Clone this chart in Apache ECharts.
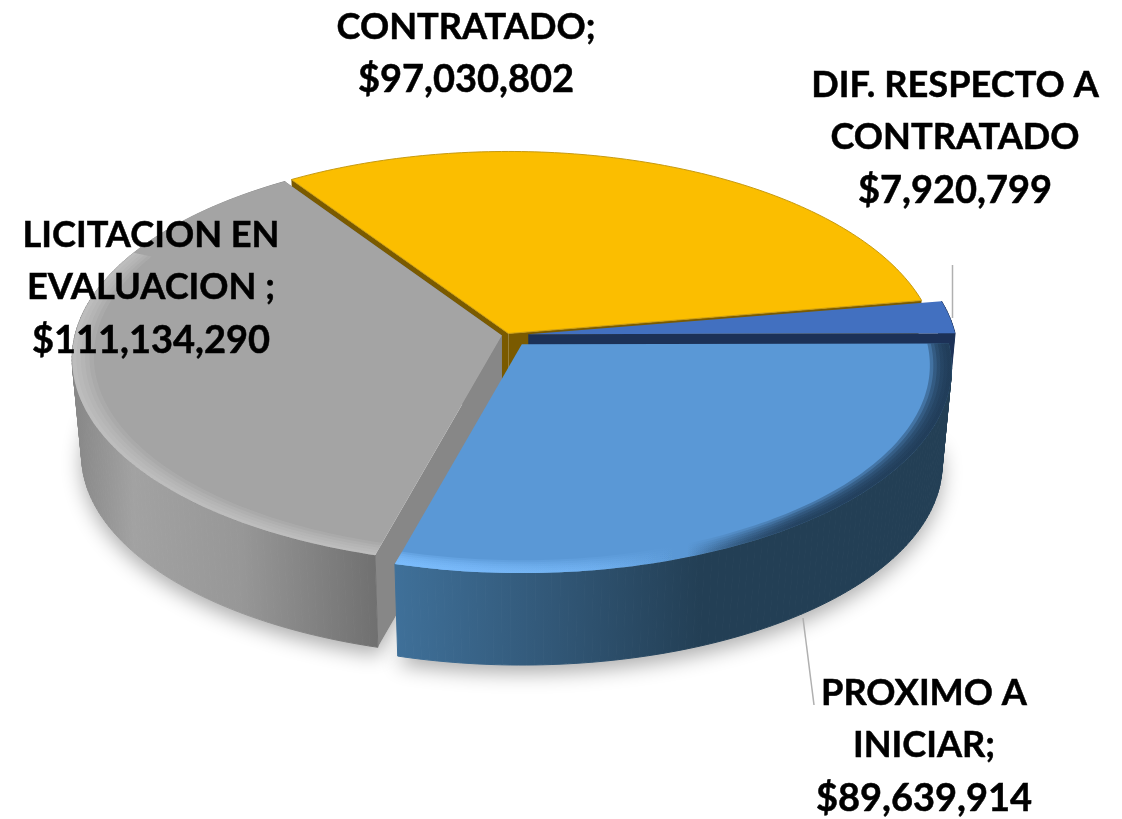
<!DOCTYPE html>
<html>
<head>
<meta charset="utf-8">
<style>
  html, body { margin: 0; padding: 0; background: #fff; }
  #pie-chart { width: 1122px; height: 819px; }
</style>
<script src="https://cdn.jsdelivr.net/npm/echarts@6/dist/echarts.min.js"></script>
</head>
<body>
<div id="pie-chart"></div>
<script>
const categories = ['CONTRATADO', 'DIF. RESPECTO A CONTRATADO', 'PROXIMO A INICIAR', 'LICITACION EN EVALUACION']
const values = [97030802, 7920799, 89639914, 111134290]
const labelNames = [
  ['CONTRATADO;'],
  ['DIF. RESPECTO A', 'CONTRATADO'],
  ['PROXIMO A', 'INICIAR;'],
  ['LICITACION EN', 'EVALUACION ;']
]

// pie geometry, a tilted disc seen in perspective
const view = { cx: 507, cy: 335, rx: 427, ry: 202.8, k: 0.114, depth: 97, bottomScale: 0.978, startAngle: -33.8 }
const explode = [0.008, 0.05, 0.057, 0.012]
const paintRank = [0, 1, 3, 2]
const total = values.reduce((a, b) => a + b, 0)

function project(u, v, off, bottom) {
  const w = 1 - view.k * v
  const s = bottom ? view.bottomScale : 1
  return [
    view.cx + off[0] + view.rx * s * u / w,
    view.cy + off[1] + (bottom ? view.depth : 0) + view.ry * s * v / w
  ]
}
function rimPoint(deg, r, off, bottom) {
  const a = deg * Math.PI / 180
  return project(r * Math.sin(a), -r * Math.cos(a), off, bottom)
}
function arc(from, to, r, off, bottom) {
  const pts = []
  const n = Math.max(4, Math.ceil(Math.abs(to - from)))
  for (let i = 0; i <= n; i++) {
    pts.push(rimPoint(from + (to - from) * i / n, r, off, bottom))
  }
  return pts
}
function sliceInfo(idx) {
  let before = 0
  for (let i = 0; i < idx; i++) before += values[i]
  const from = view.startAngle + before / total * 360
  const to = from + values[idx] / total * 360
  const mid = (from + to) / 2 * Math.PI / 180
  const e = explode[idx]
  const off = [view.rx * e * Math.sin(mid), -view.ry * e * Math.cos(mid)]
  return { from, to, off }
}
function hGrad(x, x2, stops) {
  return {
    type: 'linear', x, y: 0, x2, y2: 0, global: true,
    colorStops: stops.map(s => ({ offset: s[0], color: s[1] }))
  }
}
function poly(points, style, extra) {
  return Object.assign({ type: 'polygon', shape: { points }, style, silent: true }, extra || {})
}

const grayWall = hGrad(72, 380, [[0, '#868686'], [0.2, '#a2a2a2'], [0.55, '#979797'], [1, '#6f6f6f']])
const blueWall = hGrad(396, 700, [[0, '#3f7099'], [0.5, '#325878'], [1, '#233f55']])
const navyWall = {
  type: 'linear', x: 0, y: 340, x2: 0, y2: 430, global: true,
  colorStops: [{ offset: 0, color: '#1c3157' }, { offset: 0.5, color: '#1c3157' }, { offset: 0.62, color: 'rgba(230,230,230,0.6)' }, { offset: 1, color: 'rgba(255,255,255,0)' }]
}
const topColors = ['#fbbe00', '#4270c0', '#5a98d6', '#a4a4a4']

function renderShadow(params) {
  const idx = params.dataIndex
  if (idx < 2) return { type: 'group', children: [] }
  const s = sliceInfo(idx)
  const pts = arc(s.from, s.to, 1, s.off, true).concat([project(0, 0, s.off, true)])
  return poly(pts, {
    fill: '#fff',
    shadowColor: 'rgba(0,0,0,0.32)',
    shadowBlur: 20,
    shadowOffsetY: 8
  })
}

// soft rim on the top face, nested bands so the edge fades out
function rimBands(s, from, to, widths, fill) {
  return widths.map(w => poly(
    arc(from, to, 1, s.off, false).concat(arc(from, to, 1 - w, s.off, false).reverse()),
    { fill }
  ))
}

// outer wall as small quads, so the outline stays tangent at the widest point
function wallQuads(s, fill) {
  const top = arc(s.from, s.to, 1, s.off, false)
  const bot = arc(s.from, s.to, 1, s.off, true)
  const quads = []
  for (let i = 0; i < top.length - 1; i++) {
    quads.push(poly([top[i], top[i + 1], bot[i + 1], bot[i]], { fill, stroke: fill, lineWidth: 1 }))
  }
  return quads
}

function renderSlice(params) {
  const idx = params.dataIndex
  const s = sliceInfo(idx)
  const apex = project(0, 0, s.off, false)
  const apexB = project(0, 0, s.off, true)
  const topPts = [apex].concat(arc(s.from, s.to, 1, s.off, false))
  const fromTop = rimPoint(s.from, 1, s.off, false)
  const toTop = rimPoint(s.to, 1, s.off, false)
  const fromB = rimPoint(s.from, 1, s.off, true)
  const toB = rimPoint(s.to, 1, s.off, true)
  let children = []

  if (idx === 0) {
    // brown cut faces of the yellow slice
    children.push(poly([apex, fromTop, fromB, apexB], { fill: '#7a5a00' }))
    children.push(poly([apex, toTop, toB, apexB], { fill: '#7a5a00' }))
    children.push(poly(topPts, { fill: topColors[0], stroke: '#c79a10', lineWidth: 1 }))
  }
  if (idx === 1) {
    children = children.concat(wallQuads(s, navyWall))
    children.push(poly([apex, toTop, toB, apexB], { fill: navyWall }))
    children.push(poly(topPts, { fill: topColors[1] }))
  }
  if (idx === 3) {
    children.push(poly([apex, toTop, toB, apexB], { fill: '#6f6f6f' }))
    children.push(poly([apex, fromTop, fromB, apexB], { fill: '#878787' }))
    children = children.concat(wallQuads(s, grayWall))
    children.push(poly(topPts, { fill: topColors[3] }))
    children = children.concat(rimBands(s, s.from, s.from + 100, [0.05, 0.04, 0.03, 0.02, 0.01], 'rgba(215,215,215,0.13)'))
  }
  if (idx === 2) {
    children = children.concat(wallQuads(s, blueWall))
    children.push(poly(topPts, { fill: topColors[2] }))
    const rimFill = hGrad(396, 955, [
      [0, 'rgba(125,190,255,0.32)'], [0.35, 'rgba(125,190,255,0.14)'], [0.5, 'rgba(125,190,255,0)'],
      [0.52, 'rgba(31,58,85,0)'], [0.72, 'rgba(31,58,85,0.32)'], [1, 'rgba(31,58,85,0.42)']
    ])
    children = children.concat(rimBands(s, s.from, s.to, [0.05, 0.042, 0.034, 0.026, 0.018, 0.01], rimFill))
  }
  children.forEach((c, i) => { c.z2 = paintRank[idx] * 1000 + i })
  return { type: 'group', children }
}

function moneyLabel(idx) {
  const lines = labelNames[idx].map(t => '{n|' + t + '}')
  lines.push('{m|$' + values[idx].toLocaleString('en-US') + '}')
  return lines.join('\n')
}
function labelText(idx, x, y) {
  const base = {
    fill: '#000', stroke: '#000', lineWidth: 0.5,
    fontWeight: 'bold', fontFamily: 'Lato, "Noto Sans", sans-serif',
    lineHeight: 52.5, align: 'center'
  }
  return {
    type: 'text', x, y, z: 10, silent: true,
    style: {
      text: moneyLabel(idx),
      textAlign: 'center',
      textVerticalAlign: 'top',
      rich: {
        n: Object.assign({ fontSize: 36.2 }, base),
        m: Object.assign({ fontSize: 38 }, base)
      }
    }
  }
}
function leader(x1, y1, x2, y2) {
  return {
    type: 'line', z: 9, silent: true,
    shape: { x1, y1, x2, y2 },
    style: { stroke: '#b0b0b0', lineWidth: 1.5 }
  }
}

const chart = echarts.init(document.getElementById('pie-chart'), null, { renderer: 'canvas' })
chart.setOption({
  animation: false,
  backgroundColor: '#ffffff',
  series: [
    { type: 'custom', coordinateSystem: 'none', z: 1, silent: true, clip: false, data: values, renderItem: renderShadow },
    { type: 'custom', name: 'pie', coordinateSystem: 'none', z: 2, silent: true, clip: false,
      data: categories.map((c, i) => ({ name: c, value: values[i] })), renderItem: renderSlice }
  ],
  graphic: [
    leader(952.5, 265, 952.5, 318),
    leader(803, 618, 814, 705),
    labelText(0, 466, 1),
    labelText(1, 955, 59),
    labelText(2, 924, 667),
    labelText(3, 151, 209)
  ]
})
</script>
</body>
</html>
